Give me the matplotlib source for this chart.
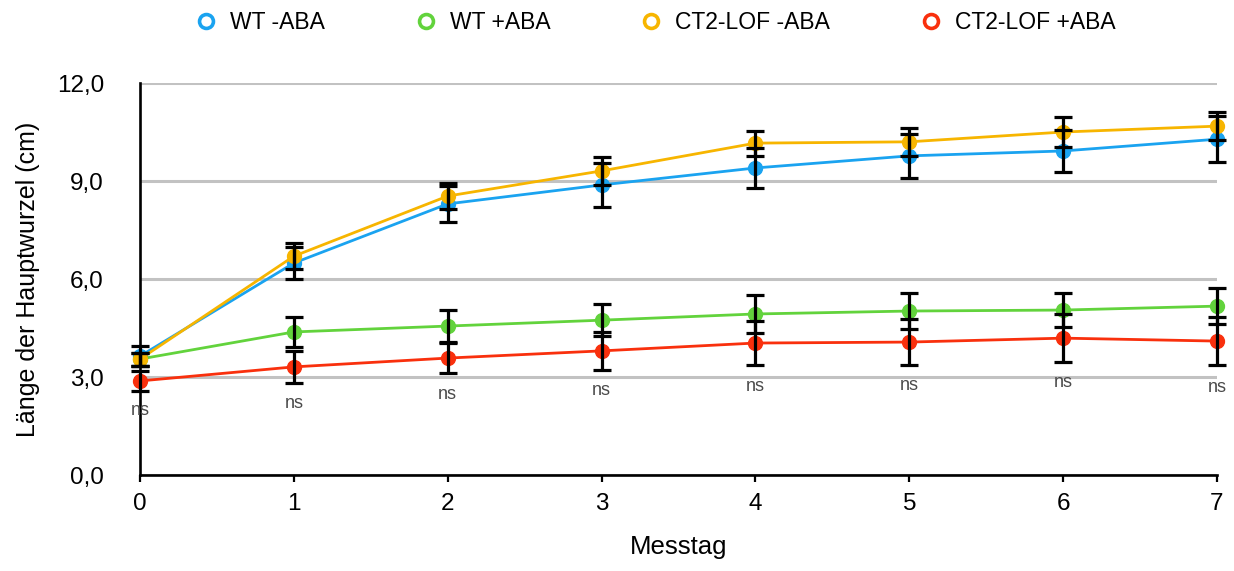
import matplotlib
matplotlib.use('Agg')
import numpy as np
import matplotlib.pyplot as plt
from matplotlib.lines import Line2D
from matplotlib.ticker import FuncFormatter

plt.rcParams['font.family'] = ['Liberation Sans', 'DejaVu Sans']

#Messtage
days = [0, 1, 2, 3, 4, 5, 6, 7]

#Mittelwerte (cm) und Fehler
wt_minus = [3.64, 6.49, 8.30, 8.88, 9.40, 9.77, 9.92, 10.28]
wt_minus_err = [0.31, 0.49, 0.56, 0.68, 0.62, 0.68, 0.65, 0.70]
wt_plus = [3.55, 4.38, 4.56, 4.74, 4.93, 5.02, 5.05, 5.17]
wt_plus_err = [0.20, 0.45, 0.49, 0.49, 0.58, 0.55, 0.52, 0.55]
ct_minus = [3.55, 6.70, 8.54, 9.31, 10.16, 10.20, 10.50, 10.68]
ct_minus_err = [0.20, 0.40, 0.40, 0.42, 0.38, 0.42, 0.46, 0.43]
ct_plus = [2.88, 3.31, 3.58, 3.80, 4.04, 4.07, 4.19, 4.10]
ct_plus_err = [0.31, 0.49, 0.46, 0.59, 0.67, 0.70, 0.73, 0.73]

#Signifikanz-Labels pro Tag
sig_labels = ['ns', 'ns', 'ns', 'ns', 'ns', 'ns', 'ns', 'ns']
sig_y = [1.96, 2.20, 2.48, 2.60, 2.72, 2.75, 2.82, 2.69]

series = [
    ('WT -ABA', wt_minus, wt_minus_err, '#1AA3F0'),
    ('WT +ABA', wt_plus, wt_plus_err, '#62D33C'),
    ('CT2-LOF -ABA', ct_minus, ct_minus_err, '#F7B500'),
    ('CT2-LOF +ABA', ct_plus, ct_plus_err, '#F9300D'),
]

fig = plt.figure(figsize=(12.34, 5.71), dpi=100)
ax = fig.add_axes([0.1135, 0.1681, 0.8727, 0.6865])

#Linien + Punkte
for name, y, err, col in series:
    ax.plot(days, y, color=col, lw=2.0, marker='o', ms=10, zorder=3, clip_on=False)

#Fehlerbalken oben drauf
for name, y, err, col in series:
    ax.errorbar(days, y, yerr=err, fmt='none', ecolor='black', elinewidth=2.3,
                capsize=6.5, capthick=2.3, zorder=4, clip_on=False)

for d, t, yy in zip(days, sig_labels, sig_y):
    ax.text(d, yy, t, ha='center', va='center', fontsize=13, color='#4a4a4a')

ax.set_xlim(0, 7)
ax.set_ylim(0, 12)
ax.set_xticks(days)
ax.set_yticks([0, 3, 6, 9, 12])
ax.yaxis.set_major_formatter(FuncFormatter(lambda v, p: '{:.1f}'.format(v).replace('.', ',')))

ax.grid(axis='y', color='#c2c2c2', lw=2.2)
ax.set_axisbelow(True)
for s in ['top', 'right']:
    ax.spines[s].set_visible(False)
for s in ['left', 'bottom']:
    ax.spines[s].set_linewidth(1.9)
    ax.spines[s].set_color('black')

ax.tick_params(axis='y', length=0, pad=26, labelsize=17.5)
ax.tick_params(axis='x', length=5, width=1.6, pad=8, labelsize=17.5)

ax.set_xlabel('Messtag', fontsize=18.5, labelpad=14)
ax.set_ylabel('Länge der Hauptwurzel (cm)', fontsize=18, labelpad=12)

#Legende mit offenen Kreisen
handles = [Line2D([], [], ls='', marker='o', ms=10, mfc='white', mec=col, mew=2.6)
           for name, y, err, col in series]
names = [s[0] for s in series]
fig.legend(handles, names, loc='center', bbox_to_anchor=(0.531, 0.961), ncol=4,
           frameon=False, fontsize=16.5, handlelength=1.0, handletextpad=0.55,
           columnspacing=3.9)

plt.savefig('out.png', dpi=100)
